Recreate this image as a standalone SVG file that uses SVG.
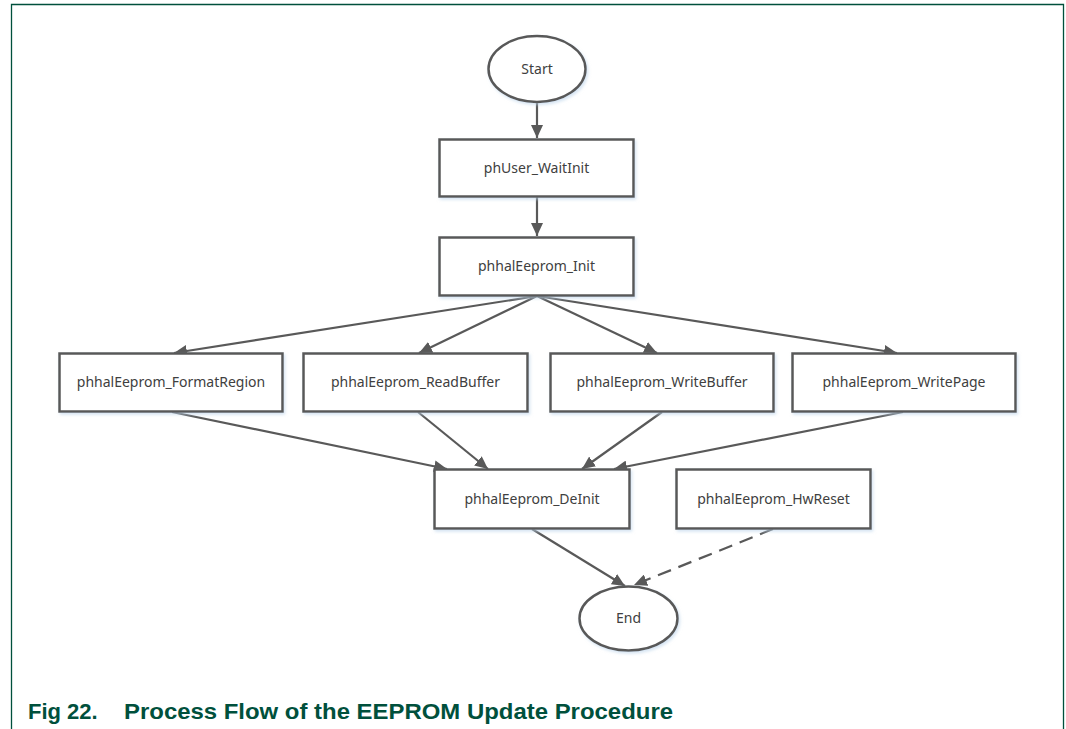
<svg xmlns="http://www.w3.org/2000/svg" width="1066" height="729" viewBox="0 0 1066 729">
<defs>
<style>
.frame{fill:none;stroke:#00503c;stroke-width:1.3}
.node{fill:#ffffff;stroke:#595959;stroke-width:2.5}
.lbl{font-family:"Noto Sans","Open Sans",sans-serif;font-size:14px;fill:#404040;text-anchor:middle}
.edge{fill:none;stroke:#595959;stroke-width:2.2}
.dash{stroke-dasharray:14,8}
.cap{font-family:"Liberation Sans",Arial,sans-serif;font-weight:bold;font-size:22px;fill:#00503c}
</style>
<filter id="sh" x="-10%" y="-10%" width="130%" height="140%">
<feDropShadow dx="1.5" dy="2" stdDeviation="1.5" flood-color="#bcd3ea" flood-opacity="0.6"/>
</filter>
<marker id="arr" viewBox="0 0 13 12" refX="13" refY="6" markerWidth="13" markerHeight="12" markerUnits="userSpaceOnUse" orient="auto">
<path d="M0,0 L13,6 L0,12 z" fill="#595959"/>
</marker>
</defs>
<rect width="1066" height="729" fill="#ffffff"/>
<path class="frame" d="M11.5,729 V4.5 H1063.5 V729"/>

<g id="connectors">
<line class="edge" x1="537" y1="102" x2="537" y2="138" marker-end="url(#arr)"/>
<line class="edge" x1="537" y1="197" x2="537" y2="236" marker-end="url(#arr)"/>
<line class="edge" x1="537" y1="296" x2="174" y2="353" marker-end="url(#arr)"/>
<line class="edge" x1="537" y1="296" x2="419" y2="353" marker-end="url(#arr)"/>
<line class="edge" x1="537" y1="296" x2="657" y2="353" marker-end="url(#arr)"/>
<line class="edge" x1="537" y1="296" x2="897" y2="353" marker-end="url(#arr)"/>
<line class="edge" x1="172" y1="412" x2="447" y2="469" marker-end="url(#arr)"/>
<line class="edge" x1="418" y1="412" x2="488" y2="469" marker-end="url(#arr)"/>
<line class="edge" x1="662" y1="412" x2="582" y2="469" marker-end="url(#arr)"/>
<line class="edge" x1="903" y1="412" x2="614" y2="469" marker-end="url(#arr)"/>
<line class="edge" x1="532" y1="529" x2="625" y2="586" marker-end="url(#arr)"/>
<line class="edge dash" x1="773" y1="529" x2="634" y2="585" marker-end="url(#arr)"/>
</g>

<g id="start">
<ellipse class="node" filter="url(#sh)" cx="537" cy="69" rx="48.5" ry="33"/>
<text class="lbl" x="537" y="74">Start</text>
</g>
<g id="waitinit">
<rect class="node" filter="url(#sh)" x="439.5" y="139.5" width="194" height="57"/>
<text class="lbl" x="536.5" y="173">phUser_WaitInit</text>
</g>
<g id="init">
<rect class="node" filter="url(#sh)" x="439.5" y="237.5" width="194" height="58"/>
<text class="lbl" x="536.5" y="271">phhalEeprom_Init</text>
</g>
<g id="formatregion">
<rect class="node" filter="url(#sh)" x="59.5" y="353.5" width="223" height="58"/>
<text class="lbl" x="171" y="387">phhalEeprom_FormatRegion</text>
</g>
<g id="readbuffer">
<rect class="node" filter="url(#sh)" x="303.5" y="353.5" width="224" height="58"/>
<text class="lbl" x="415.5" y="387">phhalEeprom_ReadBuffer</text>
</g>
<g id="writebuffer">
<rect class="node" filter="url(#sh)" x="550.5" y="353.5" width="223" height="58"/>
<text class="lbl" x="662" y="387">phhalEeprom_WriteBuffer</text>
</g>
<g id="writepage">
<rect class="node" filter="url(#sh)" x="792.5" y="353.5" width="223" height="58"/>
<text class="lbl" x="904" y="387">phhalEeprom_WritePage</text>
</g>
<g id="deinit">
<rect class="node" filter="url(#sh)" x="434.5" y="469.5" width="195" height="59"/>
<text class="lbl" x="532" y="504">phhalEeprom_DeInit</text>
</g>
<g id="hwreset">
<rect class="node" filter="url(#sh)" x="676.5" y="469.5" width="194" height="59"/>
<text class="lbl" x="773.5" y="504">phhalEeprom_HwReset</text>
</g>
<g id="end">
<ellipse class="node" filter="url(#sh)" cx="628.5" cy="618.5" rx="49" ry="32"/>
<text class="lbl" x="628.5" y="623">End</text>
</g>

<text class="cap" x="28" y="719">Fig 22.</text>
<text class="cap" x="124" y="719" textLength="549" lengthAdjust="spacingAndGlyphs">Process Flow of the EEPROM Update Procedure</text>
</svg>
